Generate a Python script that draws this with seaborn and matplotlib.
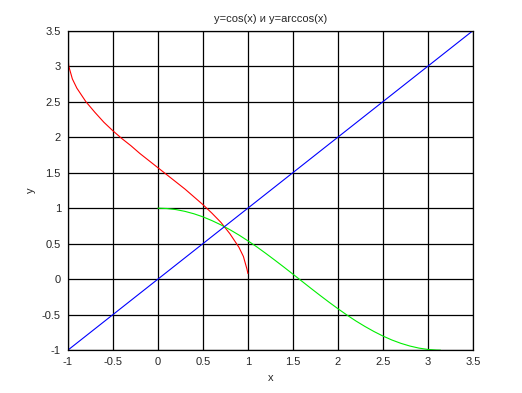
import matplotlib
matplotlib.use('Agg')
import matplotlib.pyplot as plt
import seaborn as sns
import pandas as pd

# values
cos_x = [0, 0.1, 0.2, 0.3, 0.4, 0.5, 0.6, 0.7, 0.8, 0.9, 1.0, 1.1, 1.2, 1.3, 1.4, 1.5,
         1.6, 1.7, 1.8, 1.9, 2.0, 2.1, 2.2, 2.3, 2.4, 2.5, 2.6, 2.7, 2.8, 2.9, 3.0, 3.1, 3.14]
cos_y = [1.0, 0.995, 0.98, 0.955, 0.921, 0.878, 0.825, 0.765, 0.697, 0.622, 0.54, 0.454,
         0.362, 0.267, 0.17, 0.071, -0.029, -0.129, -0.227, -0.323, -0.416, -0.505, -0.589,
         -0.666, -0.737, -0.801, -0.857, -0.904, -0.942, -0.971, -0.99, -0.999, -1.0]

acos_x = [-1.0, -0.99, -0.95, -0.9, -0.8, -0.7, -0.6, -0.5, -0.4, -0.3, -0.2, -0.1, 0.0,
          0.1, 0.2, 0.3, 0.4, 0.5, 0.6, 0.7, 0.8, 0.9, 0.95, 0.99, 1.0]
acos_y = [3.14, 3.0, 2.82, 2.69, 2.5, 2.35, 2.21, 2.09, 1.98, 1.88, 1.77, 1.67, 1.57,
          1.47, 1.37, 1.27, 1.16, 1.05, 0.93, 0.8, 0.64, 0.45, 0.32, 0.14, 0.08]

line_x = [-1.0, 3.5]
line_y = [-1.0, 3.5]

xticks = [-1, -0.5, 0, 0.5, 1, 1.5, 2, 2.5, 3, 3.5]
yticks = [-1, -0.5, 0, 0.5, 1, 1.5, 2, 2.5, 3, 3.5]

sns.set_style('white')
plt.rcParams['font.family'] = ['Liberation Sans', 'DejaVu Sans']

fig = plt.figure(figsize=(5.22, 3.93), dpi=100)
ax = fig.add_axes([0.130, 0.109, 0.776, 0.813])

df_cos = pd.DataFrame({'x': cos_x, 'y': cos_y})
df_acos = pd.DataFrame({'x': acos_x, 'y': acos_y})
df_line = pd.DataFrame({'x': line_x, 'y': line_y})

sns.lineplot(data=df_acos, x='x', y='y', color='red', linewidth=0.8, sort=False, estimator=None, ax=ax)
sns.lineplot(data=df_cos, x='x', y='y', color='#00ee00', linewidth=0.8, sort=False, estimator=None, ax=ax)
sns.lineplot(data=df_line, x='x', y='y', color='blue', linewidth=0.8, sort=False, estimator=None, ax=ax)

ax.set_xlim(-1, 3.5)
ax.set_ylim(-1, 3.5)
ax.set_xticks(xticks)
ax.set_yticks(yticks)
ax.set_xticklabels([f'{t:g}' for t in xticks])
ax.set_yticklabels([f'{t:g}' for t in yticks])
ax.grid(True, color='black', linewidth=0.9)
ax.set_axisbelow(True)
for s in ax.spines.values():
    s.set_color('black')
    s.set_linewidth(0.9)
ax.tick_params(length=0, labelsize=8, pad=5)

ax.set_title('y=cos(x) и y=arccos(x)', fontsize=8)
ax.set_xlabel('x', fontsize=8)
ax.set_ylabel('y', fontsize=8)

fig.savefig('out.png', dpi=100)
